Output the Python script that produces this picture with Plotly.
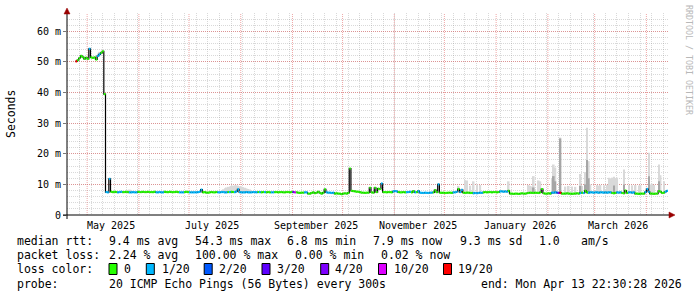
import plotly.graph_objects as go
import pandas as pd

# ---------------- data ----------------
first_day = "2025-04-24"
axis_start = "2025-04-18 22:30:28"
axis_end = "2026-04-13 22:30:28"

median_ms = [
    50.2, 50.6, 51.3, 52.0, 51.6, 51.0, 51.4, 51.0, 54.3, 51.5,
    51.3, 51.5, 50.8, 52.0, 52.5, 53.0, 53.5, 39.5, 7.5, 7.4,
    11.8, 7.6, 7.5, 7.6, 7.5, 7.4, 7.5, 7.6, 7.5, 7.5,
    7.6, 7.5, 7.4, 7.4, 7.5, 7.4, 7.4, 7.6, 7.5, 7.5,
    7.6, 7.5, 7.5, 7.6, 7.5, 7.5, 7.5, 7.6, 7.4, 7.4,
    7.5, 7.4, 7.4, 7.6, 7.5, 7.5, 7.6, 7.5, 7.5, 7.5,
    7.6, 7.5, 7.4, 7.4, 7.4, 7.5, 7.6, 7.5, 7.4, 7.4,
    7.4, 7.4, 7.4, 7.5, 7.6, 8.3, 7.4, 7.5, 7.3, 7.3,
    7.4, 7.5, 7.4, 7.4, 7.5, 7.4, 7.4, 7.5, 7.5, 7.4,
    7.4, 7.5, 7.5, 7.6, 7.5, 7.5, 7.7, 8.4, 7.5, 7.4,
    7.4, 7.4, 7.5, 7.4, 7.4, 7.4, 7.5, 7.5, 7.4, 7.5,
    7.5, 7.4, 7.5, 7.5, 7.4, 7.5, 7.4, 7.4, 7.4, 7.5,
    7.5, 7.4, 7.5, 7.5, 7.4, 7.4, 7.5, 7.5, 7.4, 7.5,
    7.5, 7.4, 7.4, 7.3, 7.2, 7.3, 7.3, 7.4, 7.4, 7.0,
    7.0, 7.2, 7.4, 7.1, 7.3, 7.6, 7.2, 7.0, 7.3, 8.4,
    7.4, 7.3, 7.3, 7.2, 7.3, 7.0, 7.1, 7.0, 7.0, 6.8,
    7.0, 7.1, 7.0, 7.2, 15.2, 7.9, 7.8, 7.7, 7.6, 7.6,
    7.5, 7.3, 7.3, 7.2, 7.3, 7.3, 8.9, 7.4, 7.3, 8.9,
    7.5, 8.6, 8.5, 10.3, 7.5, 7.5, 7.4, 7.5, 7.5, 7.4,
    7.7, 7.8, 7.7, 7.5, 7.4, 7.4, 7.5, 7.4, 7.5, 7.5,
    7.6, 7.4, 7.8, 7.4, 7.5, 7.8, 7.3, 7.2, 7.2, 7.3,
    7.2, 7.2, 7.3, 7.3, 7.4, 8.1, 7.5, 10.0, 7.3, 7.2,
    7.3, 7.2, 7.2, 7.3, 7.3, 7.2, 7.4, 7.4, 7.6, 8.5,
    7.5, 8.2, 7.3, 7.2, 7.3, 7.3, 7.2, 7.2, 7.1, 7.2,
    7.1, 7.2, 7.3, 7.2, 7.4, 7.5, 7.4, 7.5, 7.5, 7.4,
    7.5, 7.5, 7.4, 7.5, 7.7, 7.7, 7.6, 7.7, 7.6, 7.9,
    7.0, 7.0, 6.9, 7.0, 7.0, 6.9, 7.0, 7.1, 7.0, 7.0,
    7.1, 7.2, 7.3, 7.2, 7.2, 7.3, 7.2, 7.2, 7.4, 8.5,
    7.1, 7.0, 7.0, 7.1, 7.0, 7.3, 7.3, 7.4, 7.3, 7.2,
    7.3, 7.0, 7.0, 7.0, 7.1, 7.0, 7.0, 6.9, 7.0, 7.0,
    7.1, 7.0, 7.2, 7.3, 7.2, 7.9, 7.4, 7.3, 7.4, 7.4,
    7.3, 7.4, 7.4, 7.3, 7.4, 7.4, 7.3, 7.4, 7.3, 7.4,
    7.4, 7.2, 7.1, 7.2, 7.4, 7.3, 7.4, 7.2, 7.1, 8.0,
    7.2, 7.4, 7.4, 7.3, 7.4, 7.0, 7.0, 6.9, 7.0, 7.0,
    7.0, 7.5, 8.5, 7.6, 7.0, 7.0, 6.9, 7.0, 7.0, 7.8,
    7.6, 7.2, 7.3, 7.6, 7.9,
]

# loss level index per day (0 = 0/20 ... 6 = 19/20)
loss_idx = [
    6, 0, 0, 0, 0, 0, 0, 0, 1, 0,
    0, 0, 0, 1, 1, 0, 0, 0, 1, 1,
    1, 0, 0, 0, 0, 1, 1, 1, 0, 0,
    0, 0, 1, 1, 1, 1, 1, 0, 0, 0,
    0, 0, 0, 0, 0, 0, 0, 0, 1, 1,
    1, 1, 1, 0, 0, 0, 0, 0, 0, 0,
    0, 0, 1, 1, 1, 0, 0, 0, 1, 1,
    1, 1, 1, 1, 1, 1, 0, 0, 0, 0,
    0, 0, 0, 0, 0, 1, 1, 1, 1, 1,
    1, 0, 1, 0, 0, 1, 1, 1, 1, 1,
    1, 1, 1, 1, 1, 1, 1, 1, 1, 0,
    1, 0, 0, 1, 0, 0, 0, 1, 1, 0,
    0, 0, 0, 0, 0, 0, 0, 0, 0, 0,
    3, 5, 0, 0, 0, 0, 0, 1, 1, 0,
    0, 0, 0, 0, 0, 0, 0, 0, 0, 0,
    1, 1, 1, 1, 1, 0, 0, 0, 0, 0,
    0, 0, 0, 0, 0, 0, 0, 0, 0, 0,
    0, 0, 0, 0, 0, 0, 0, 0, 0, 0,
    0, 0, 0, 1, 0, 0, 0, 0, 0, 0,
    1, 1, 1, 0, 0, 0, 0, 0, 1, 1,
    1, 0, 0, 1, 0, 1, 1, 1, 1, 1,
    1, 1, 1, 1, 0, 0, 0, 1, 0, 0,
    0, 0, 0, 0, 0, 0, 1, 1, 1, 0,
    1, 1, 0, 0, 0, 0, 0, 0, 1, 1,
    1, 1, 1, 1, 0, 0, 0, 0, 0, 0,
    0, 0, 0, 0, 1, 1, 1, 1, 1, 0,
    0, 0, 0, 0, 0, 0, 0, 0, 0, 0,
    0, 0, 0, 0, 0, 0, 0, 0, 0, 0,
    0, 0, 0, 0, 0, 1, 1, 1, 2, 4,
    6, 0, 0, 0, 0, 0, 0, 0, 0, 0,
    0, 0, 1, 0, 1, 0, 0, 1, 1, 1,
    1, 1, 1, 1, 1, 1, 1, 1, 1, 1,
    1, 0, 0, 0, 1, 1, 1, 0, 0, 0,
    0, 1, 1, 1, 1, 0, 0, 0, 0, 0,
    0, 1, 1, 1, 0, 0, 0, 0, 0, 0,
    0, 0, 0, 1, 1,
]
assert len(median_ms) == len(loss_idx) == 355

loss_labels = ["0", "1/20", "2/20", "3/20", "4/20", "10/20", "19/20"]
loss_colors = ["#26ff00", "#00b8ff", "#0059ff", "#5e00ff", "#7e00ff", "#dd00ff", "#ff0000"]

# smoke (spread of the 20 pings): light outer band tops
smoke_day = [13, 14, 31, 32, 33,
             88, 89, 90, 91, 92, 93, 94, 95, 96, 97, 98, 99, 100, 101, 102, 103, 104,
             229, 233, 234, 236, 238, 240, 242, 259,
             271, 272, 273, 274, 277, 278, 285, 286, 287, 290,
             293, 295, 297, 299, 302, 303, 305, 306, 307, 308,
             312, 313, 314, 316, 318, 319, 320, 321, 322, 323, 324, 328,
             331, 333, 335, 337, 338, 343, 344, 345, 346, 349, 350, 352]
smoke_top = [52.8, 53.3, 8.2, 8.3, 8.2,
             8.4, 8.7, 9.0, 9.2, 9.3, 9.5, 9.6, 9.7, 9.7, 9.6, 9.4, 9.3, 9.1, 8.9, 8.7, 8.5, 8.3,
             9.5, 11.4, 11.3, 9.6, 11.0, 10.0, 9.8, 11.0,
             9.8, 9.5, 9.3, 12.7, 11.3, 11.0, 12.0, 16.5, 15.5, 25.3,
             9.3, 9.5, 9.3, 9.2, 13.4, 9.5, 14.0, 28.5, 17.6, 10.0,
             9.8, 9.6, 9.8, 9.7, 9.8, 12.2, 12.0, 12.2, 12.5, 12.0, 12.2, 14.9,
             9.8, 9.7, 9.8, 9.6, 9.8, 20.3, 10.0, 10.2, 9.8, 16.5, 13.0, 11.0]
# denser inner band tops
smoke_dark_day = [274, 286, 287, 290, 302, 305, 306, 307, 322, 328, 343, 349]
smoke_dark_top = [9.0, 12.7, 11.0, 25.0, 9.5, 10.0, 18.0, 12.0, 9.6, 10.0, 12.7, 11.0]
assert len(smoke_day) == len(smoke_top) and len(smoke_dark_day) == len(smoke_dark_top)

month_grid_dates = ["2025-05-01", "2025-06-01", "2025-07-01", "2025-08-01", "2025-09-01",
                    "2025-10-01", "2025-11-01", "2025-12-01", "2026-01-01", "2026-02-01",
                    "2026-03-01", "2026-04-01"]
month_label_dates = ["2025-05-15", "2025-07-15", "2025-09-15",
                     "2025-11-15", "2026-01-15", "2026-03-15"]
month_labels = ["May 2025", "July 2025", "September 2025",
                "November 2025", "January 2026", "March 2026"]
y_tick_vals = [0, 10, 20, 30, 40, 50, 60]
y_tick_text = ["0", "10 m", "20 m", "30 m", "40 m", "50 m", "60 m"]

rtt_stats = ["9.4 ms avg", "54.3 ms max", "6.8 ms min", "7.9 ms now", "9.3 ms sd", "1.0", "am/s"]
loss_stats = ["2.24 % avg", "100.00 % max", "0.00 % min", "0.02 % now"]
probe_text = "20 ICMP Echo Pings (56 Bytes) every 300s"
end_text = "end: Mon Apr 13 22:30:28 2026"

# ---------------- layout constants ----------------
W, H = 697, 297
PL, PR, PT, PB = 67, 668, 13, 215
FONT = "DejaVu Sans Mono"


def px(x):
    return (x - PL) / (PR - PL)


def py(y):
    return (PB - y) / (PB - PT)


days = pd.date_range(first_day, periods=len(median_ms), freq="D")
day_ms = 86400000
half = pd.Timedelta(hours=12)
one_day = pd.Timedelta(days=1)

fig = go.Figure()

# smoke
med = median_ms
fig.add_trace(go.Bar(
    x=[days[d] + half for d in smoke_day],
    base=[med[d] - 0.3 for d in smoke_day],
    y=[t - (med[d] - 0.3) for d, t in zip(smoke_day, smoke_top)],
    width=day_ms, marker=dict(color="#d9d9d9", line=dict(width=0)),
    hoverinfo="skip"))
fig.add_trace(go.Bar(
    x=[days[d] + half for d in smoke_dark_day],
    base=[med[d] - 0.3 for d in smoke_dark_day],
    y=[t - (med[d] - 0.3) for d, t in zip(smoke_dark_day, smoke_dark_top)],
    width=day_ms, marker=dict(color="#a6a6a6", line=dict(width=0)),
    hoverinfo="skip"))

# black median connector (gives the vertical steps)
fig.add_trace(go.Scatter(
    x=list(days) + [days[-1] + one_day], y=med + [med[-1]], mode="lines",
    line=dict(color="#000000", width=1.2, shape="hv"), hoverinfo="skip"))

# median coloured by loss: one horizontal piece per day
n = len(med)
for c, col in enumerate(loss_colors):
    xs, ys = [], []
    for i in range(n):
        if loss_idx[i] != c:
            continue
        xs += [days[i], days[i] + one_day, None]
        ys += [med[i], med[i], None]
    if xs:
        fig.add_trace(go.Scatter(x=xs, y=ys, mode="lines",
                                 line=dict(color=col, width=2.2),
                                 hoverinfo="skip"))

major_grid = "rgba(224,79,79,0.5)"
minor_grid = "rgba(128,128,128,0.3)"
DASH = "1px,1px"

fig.update_layout(
    width=W, height=H,
    margin=dict(l=PL, r=W - PR, t=PT, b=H - PB, pad=0),
    paper_bgcolor="white", plot_bgcolor="white",
    showlegend=False, barmode="overlay",
    font=dict(family=FONT, size=10, color="black"),
    xaxis=dict(
        type="date", range=[axis_start, axis_end],
        tickmode="linear", tick0="2025-04-26 08:00", dtick=7 * day_ms,
        showticklabels=False, ticks="",
        showgrid=True, gridcolor=minor_grid, griddash=DASH, gridwidth=1,
        zeroline=False, showline=False, fixedrange=True,
    ),
    yaxis=dict(
        range=[0, 66], tickmode="array", tickvals=y_tick_vals, ticktext=y_tick_text,
        ticks="outside", ticklen=3, tickcolor="#777777",
        tickfont=dict(family=FONT, size=10, color="black"),
        showgrid=True, gridcolor=major_grid, griddash=DASH, gridwidth=1,
        minor=dict(tickmode="linear", tick0=0, dtick=2,
                   showgrid=True, gridcolor=minor_grid, griddash=DASH, gridwidth=1),
        zeroline=False, showline=False, fixedrange=True,
    ),
)

shapes = []
for d in month_grid_dates:
    shapes.append(dict(type="line", xref="x", yref="paper", x0=d, x1=d, y0=0, y1=1,
                       line=dict(color=major_grid, width=1, dash=DASH), layer="below"))
shapes += [
    dict(type="line", xref="paper", yref="paper", x0=px(67), x1=px(67), y0=py(219), y1=py(12),
         line=dict(color="#000000", width=1), layer="above"),
    dict(type="line", xref="paper", yref="paper", x0=px(63), x1=px(670), y0=py(215), y1=py(215),
         line=dict(color="#000000", width=1), layer="above"),
    dict(type="path", xref="paper", yref="paper",
         path=f"M {px(64)},{py(14)} L {px(70)},{py(14)} L {px(67)},{py(8)} Z",
         fillcolor="#990000", line=dict(color="#990000", width=0.5), layer="above"),
    dict(type="path", xref="paper", yref="paper",
         path=f"M {px(669)},{py(212)} L {px(669)},{py(218)} L {px(675)},{py(215)} Z",
         fillcolor="#990000", line=dict(color="#990000", width=0.5), layer="above"),
]

ann = []


def text(x, y, s, size=11.5, color="black", anchor="left", angle=0):
    ann.append(dict(xref="paper", yref="paper", x=px(x), y=py(y), text=s, showarrow=False,
                    xanchor=anchor, yanchor="middle", textangle=angle, borderpad=0,
                    font=dict(family=FONT, size=size, color=color)))


# month labels
for d, s in zip(month_label_dates, month_labels):
    ann.append(dict(xref="x", yref="paper", x=d, y=py(225), text=s, showarrow=False,
                    xanchor="center", yanchor="middle", borderpad=0,
                    font=dict(family=FONT, size=10, color="black")))

text(11, 114, "Seconds", size=11.5, anchor="center", angle=-90)
text(689, 60, "RRDTOOL / TOBI OETIKER", size=8.3, color="#b8b8b8", anchor="center", angle=90)

# legend lines
text(16, 241, "median rtt:")
for xpos, s in zip([108, 193.6, 286, 372, 458.6, 538, 580], rtt_stats):
    text(xpos, 241, s)
text(16, 255, "packet loss:")
for xpos, s in zip([108, 193.6, 293.5, 379.5], loss_stats):
    text(xpos, 255, s)
text(16, 269, "loss color:")
box_x = [109, 146.3, 204.2, 262, 320.7, 378.5, 443.5]
lab_x = [123.2, 160.6, 218.4, 276.2, 334, 392.8, 457.3]
for bx, lx, col, lab in zip(box_x, lab_x, loss_colors, loss_labels):
    shapes.append(dict(type="rect", xref="paper", yref="paper",
                       x0=px(bx), x1=px(bx + 8), y0=py(274.5), y1=py(263.5),
                       fillcolor=col, line=dict(color="#000000", width=1)))
    text(lx, 269, lab)
text(16, 284, "probe:")
text(108, 284, probe_text)
text(479.5, 284, end_text)

fig.update_layout(shapes=shapes, annotations=ann)
fig.write_html("out.html", config={"displayModeBar": False})
